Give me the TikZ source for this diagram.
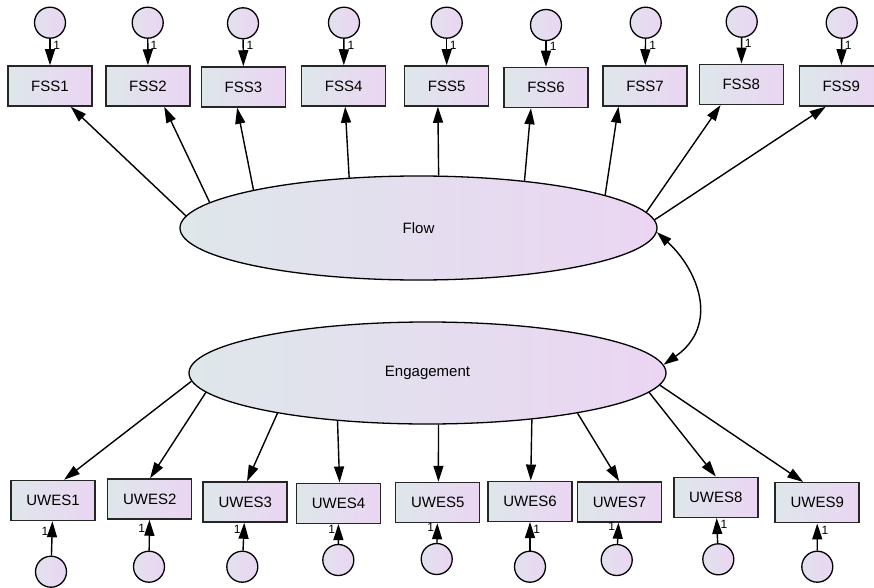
\documentclass[tikz,border=0pt]{standalone}
\usepackage{fontspec}
\setmainfont{Liberation Sans}
\usetikzlibrary{shapes.geometric,arrows.meta}

\definecolor{fillL}{HTML}{DEE7EA}
\definecolor{fillR}{HTML}{EBD5F3}
\definecolor{edge}{HTML}{262626}

\tikzset{
  obs/.style={rectangle, draw=edge, line width=1.5pt, minimum width=84pt,
    minimum height=40pt, inner sep=0pt, left color=fillL, right color=fillR,
    font=\fontsize{15}{18}\selectfont},
  err/.style={circle, draw=black, line width=1.3pt, minimum size=31pt,
    inner sep=0pt, left color=fillL!70!fillR, right color=fillR},
  lat/.style={ellipse, draw=black, line width=1.3pt, inner sep=0pt,
    left color=fillL, right color=fillR, font=\fontsize{15}{18}\selectfont},
  regpath/.style={line width=1.4pt, -{Triangle[length=16pt,width=10pt]}},
  covpath/.style={line width=1.4pt, {Triangle[length=15pt,width=9.5pt]}-{Triangle[length=15pt,width=9.5pt]}},
  one/.style={inner sep=0pt, font=\fontsize{12}{13}\selectfont}
}

\begin{document}
\begin{tikzpicture}[x=1pt,y=-1pt]
\useasboundingbox (0,0) rectangle (874,588);

% latent variables
\node[lat, minimum width=477pt, minimum height=104pt] (flow) at (418.5,228) {Flow};
\node[lat, minimum width=477pt, minimum height=102pt] (eng) at (427.5,373) {Engagement};

% flow indicators
\node[obs] (fss1) at (50,86) {FSS1};
\node[obs] (fss2) at (148,86) {FSS2};
\node[obs] (fss3) at (243.5,87) {FSS3};
\node[obs] (fss4) at (343.7,86) {FSS4};
\node[obs] (fss5) at (446.7,86) {FSS5};
\node[obs] (fss6) at (546,87.5) {FSS6};
\node[obs] (fss7) at (645,86) {FSS7};
\node[obs] (fss8) at (741.3,84.3) {FSS8};
\node[obs] (fss9) at (841.3,86) {FSS9};

% engagement indicators
\node[obs] (uw1) at (53,500.5) {UWES1};
\node[obs] (uw2) at (149.7,499) {UWES2};
\node[obs] (uw3) at (245.2,502) {UWES3};
\node[obs] (uw4) at (338.5,503.3) {UWES4};
\node[obs] (uw5) at (437.7,502.5) {UWES5};
\node[obs] (uw6) at (530,501.3) {UWES6};
\node[obs] (uw7) at (619.5,502) {UWES7};
\node[obs] (uw8) at (715.8,497.3) {UWES8};
\node[obs] (uw9) at (817.2,502.7) {UWES9};

% error terms, top row
\node[err] (ef1) at (50,22.7) {};
\node[err] (ef2) at (147.7,22.7) {};
\node[err] (ef3) at (243,23.3) {};
\node[err] (ef4) at (344,22.7) {};
\node[err] (ef5) at (446.7,22.7) {};
\node[err] (ef6) at (546,25) {};
\node[err] (ef7) at (645.7,22.7) {};
\node[err] (ef8) at (741.7,21.7) {};
\node[err] (ef9) at (841.7,22.7) {};

% error terms, bottom row
\node[err] (eu1) at (51,571.7) {};
\node[err] (eu2) at (149,566.7) {};
\node[err] (eu3) at (242.3,566.7) {};
\node[err] (eu4) at (338.3,560) {};
\node[err] (eu5) at (436.7,559) {};
\node[err] (eu6) at (530,566.7) {};
\node[err] (eu7) at (616.7,560) {};
\node[err] (eu8) at (718.3,559.3) {};
\node[err] (eu9) at (817.3,566.7) {};

% error paths
\foreach \i in {1,...,9} {
  \draw[regpath] (ef\i) -- (fss\i);
  \draw[regpath] (eu\i) -- (uw\i);
}

% fixed weights
\node[one] (wf1) at (56.7,45) {1};
\node[one] (wf2) at (154,45) {1};
\node[one] (wf3) at (250,45.7) {1};
\node[one] (wf4) at (351,45) {1};
\node[one] (wf5) at (453.3,45) {1};
\node[one] (wf6) at (553.3,46.7) {1};
\node[one] (wf7) at (652.7,45) {1};
\node[one] (wf8) at (748.3,43.3) {1};
\node[one] (wf9) at (848.3,45) {1};

\node[one] (wu1) at (45,531.7) {1};
\node[one] (wu2) at (141.7,528.3) {1};
\node[one] (wu3) at (237.3,529.3) {1};
\node[one] (wu4) at (331.7,529.3) {1};
\node[one] (wu5) at (430.7,527.3) {1};
\node[one] (wu6) at (536.7,529.3) {1};
\node[one] (wu7) at (611.7,526) {1};
\node[one] (wu8) at (724,524) {1};
\node[one] (wu9) at (825,530) {1};

% loadings of Flow
\draw[regpath] (flow.177.4) -- (fss1.-45);
\draw[regpath] (flow.173.4) -- (fss2.-52.6);
\draw[regpath] (flow.167.1) -- (fss3.-107.2);
\draw[regpath] (flow.144.4) -- (fss4.-86.3);
\draw[regpath] (flow.69.4) -- (fss5.-113.5);
\draw[regpath] (flow.24.0) -- (fss6.-126.3);
\draw[regpath] (flow.10.84) -- (fss7.-142.4);
\draw[regpath] (flow.4.06) -- (fss8.-135);
\draw[regpath] (flow.2.17) -- (fss9.-127.4);

% loadings of Engagement
\draw[regpath] (eng.182.1) -- (uw1.62.8);
\draw[regpath] (eng.185.8) -- (uw2.89);
\draw[regpath] (eng.195.1) -- (uw3.85.7);
\draw[regpath] (eng.208.6) -- (uw4.87.7);
\draw[regpath] (eng.282.1) -- (uw5.88.3);
\draw[regpath] (eng.336.0) -- (uw6.88);
\draw[regpath] (eng.345.0) -- (uw7.91.4);
\draw[regpath] (eng.355.7) -- (uw8.90);
\draw[regpath] (eng.357.65) -- (uw9.124.8);

% covariance
\draw[covpath] (flow.-1.68) .. controls (698,270) and (720,325) .. (eng.2.17);

\end{tikzpicture}
\end{document}
